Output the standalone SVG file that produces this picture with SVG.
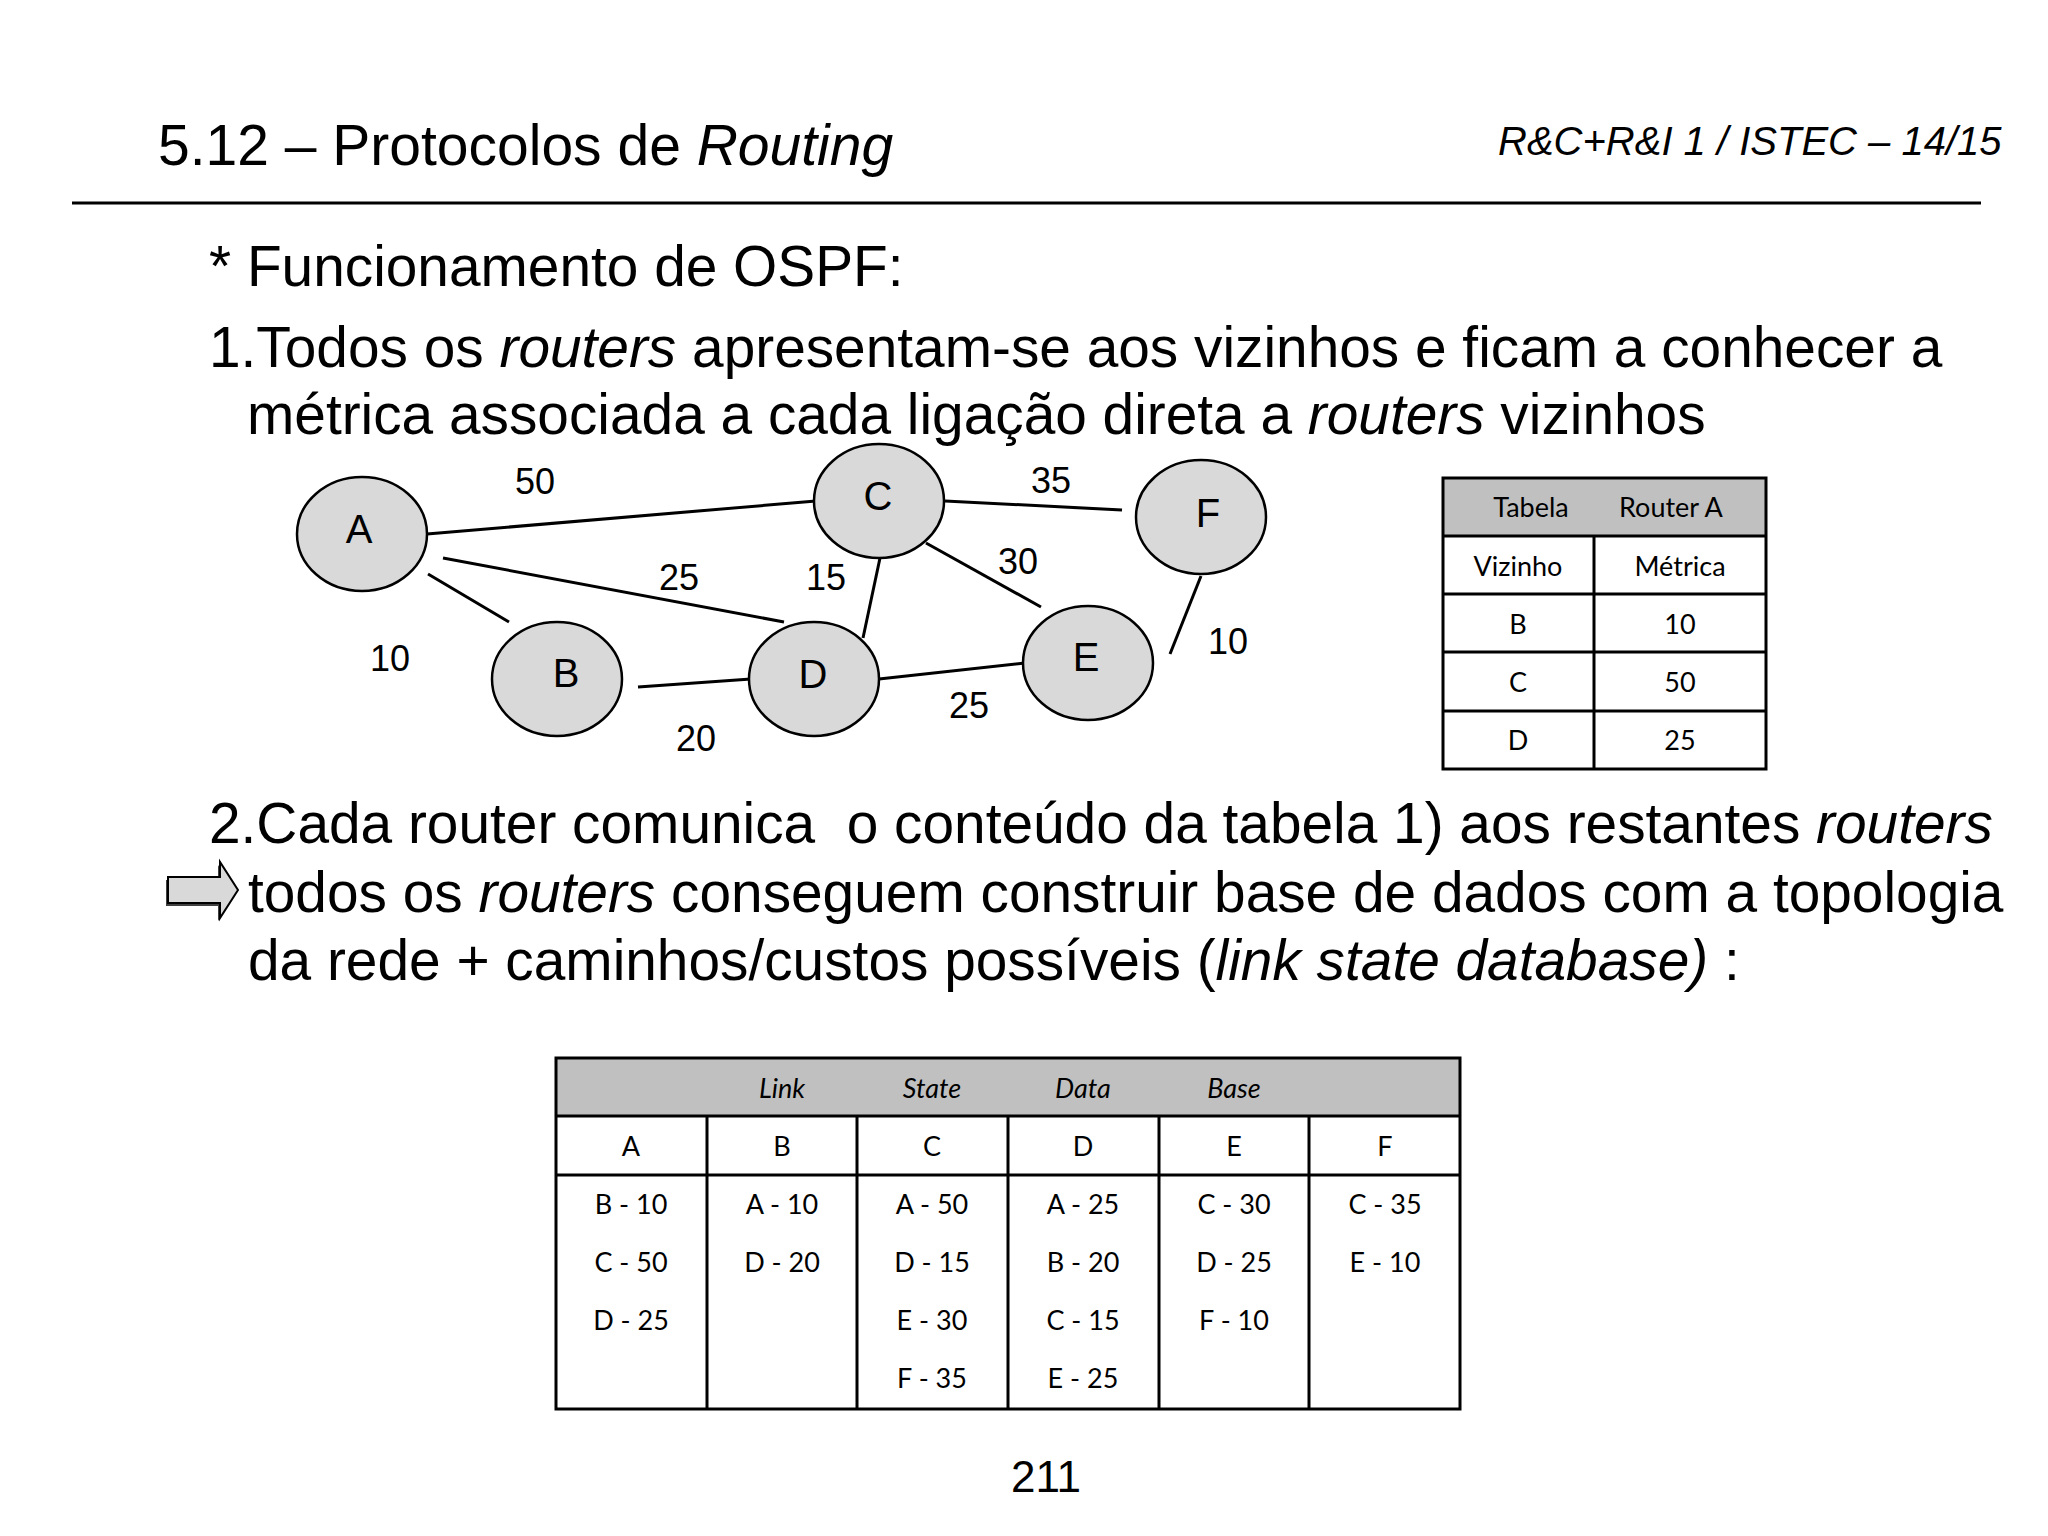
<svg xmlns="http://www.w3.org/2000/svg" width="2048" height="1536" viewBox="0 0 2048 1536">
<style>
.t{font-family:"Liberation Sans",Arial,sans-serif;fill:#000}
.body{font-size:56.8px}
.i{font-style:italic}
.node ellipse{fill:#d9d9d9;stroke:#000;stroke-width:2.5}
.nl{font-family:"Liberation Sans",Arial,sans-serif;font-size:40px;text-anchor:middle}
.el{font-family:"Liberation Sans",Arial,sans-serif;font-size:36px;text-anchor:middle}
.conn line{stroke:#000;stroke-width:3}
.tb{font-family:Lato,"Open Sans",sans-serif;font-size:27px;text-anchor:middle}
.grid{stroke:#000;stroke-width:3;fill:none}
</style>
<rect width="2048" height="1536" fill="#fff"/>
<!-- header -->
<text class="t" x="158" y="165" font-size="57">5.12 – Protocolos de <tspan class="i">Routing</tspan></text>
<text class="t i" x="1498" y="155" font-size="40">R&amp;C+R&amp;I 1 / ISTEC – 14/15</text>
<line x1="72" y1="203" x2="1981" y2="203" stroke="#000" stroke-width="3"/>
<!-- bullet text -->
<text class="t body" x="209" y="286">* Funcionamento de OSPF:</text>
<text class="t body" x="209" y="367">1.Todos os <tspan class="i">routers</tspan> apresentam-se aos vizinhos e ficam a conhecer a</text>
<text class="t body" x="247" y="434">métrica associada a cada ligação direta a <tspan class="i">routers</tspan> vizinhos</text>
<!-- connectors -->
<g id="connectors" class="conn">
<line x1="427" y1="534" x2="816" y2="501"/>
<line x1="443" y1="558" x2="784" y2="622"/>
<line x1="428" y1="574" x2="509" y2="622"/>
<line x1="945" y1="501" x2="1122" y2="510"/>
<line x1="880" y1="558" x2="863" y2="638"/>
<line x1="926" y1="543" x2="1041" y2="607"/>
<line x1="638" y1="687" x2="751" y2="679"/>
<line x1="879" y1="679" x2="1025" y2="663"/>
<line x1="1170" y1="654" x2="1201" y2="576"/>
</g>
<g id="edge-labels">
<text class="el" x="535" y="494">50</text>
<text class="el" x="1051" y="493">35</text>
<text class="el" x="1018" y="574">30</text>
<text class="el" x="679" y="590">25</text>
<text class="el" x="826" y="590">15</text>
<text class="el" x="390" y="671">10</text>
<text class="el" x="1228" y="654">10</text>
<text class="el" x="696" y="751">20</text>
<text class="el" x="969" y="718">25</text>
</g>
<!-- nodes -->
<g id="node-A" class="node"><ellipse cx="362" cy="534" rx="65" ry="57"/><text class="nl" x="359" y="543">A</text></g>
<g id="node-B" class="node"><ellipse cx="557" cy="679" rx="65" ry="57"/><text class="nl" x="566" y="687">B</text></g>
<g id="node-C" class="node"><ellipse cx="879" cy="501" rx="65" ry="57"/><text class="nl" x="878" y="510">C</text></g>
<g id="node-D" class="node"><ellipse cx="814" cy="679" rx="65" ry="57"/><text class="nl" x="813" y="688">D</text></g>
<g id="node-E" class="node"><ellipse cx="1088" cy="663" rx="65" ry="57"/><text class="nl" x="1086" y="671">E</text></g>
<g id="node-F" class="node"><ellipse cx="1201" cy="517" rx="65" ry="57"/><text class="nl" x="1208" y="527">F</text></g>
<!-- Tabela Router A -->
<g id="table-router-a">
<rect x="1443" y="478" width="323" height="58" fill="#c0c0c0"/>
<rect class="grid" x="1443" y="478" width="323" height="291"/>
<line class="grid" x1="1443" y1="536" x2="1766" y2="536"/>
<line class="grid" x1="1443" y1="594" x2="1766" y2="594"/>
<line class="grid" x1="1443" y1="652" x2="1766" y2="652"/>
<line class="grid" x1="1443" y1="711" x2="1766" y2="711"/>
<line class="grid" x1="1594" y1="536" x2="1594" y2="769"/>
<text class="tb" x="1531" y="517">Tabela</text>
<text class="tb" x="1671" y="517">Router A</text>
<text class="tb" x="1518" y="576">Vizinho</text>
<text class="tb" x="1680" y="576">Métrica</text>
<text class="tb" x="1518" y="634">B</text>
<text class="tb" x="1680" y="634">10</text>
<text class="tb" x="1518" y="692">C</text>
<text class="tb" x="1680" y="692">50</text>
<text class="tb" x="1518" y="750">D</text>
<text class="tb" x="1680" y="750">25</text>
</g>
<!-- paragraph 2 -->
<text class="t body" x="209" y="843">2.Cada router comunica&#160; o conteúdo da tabela 1) aos restantes <tspan class="i">routers</tspan></text>
<g id="arrow">
<polygon points="166,880 218,880 218,865 236,893 218,921 218,906 166,906" fill="#404040"/>
<polygon points="168,877 220,877 220,862 238,890 220,918 220,903 168,903" fill="#d9d9d9" stroke="#000" stroke-width="2"/>
</g>
<text class="t body" x="248" y="912">todos os <tspan class="i">routers</tspan> conseguem construir base de dados com a topologia</text>
<text class="t body" x="248" y="980">da rede + caminhos/custos possíveis (<tspan class="i">link state database)</tspan> :</text>
<!-- Link State Data Base table -->
<g id="table-lsdb">
<rect x="556" y="1058" width="904" height="58" fill="#c0c0c0"/>
<rect class="grid" x="556" y="1058" width="904" height="351"/>
<line class="grid" x1="556" y1="1116" x2="1460" y2="1116"/>
<line class="grid" x1="556" y1="1175" x2="1460" y2="1175"/>
<line class="grid" x1="707" y1="1116" x2="707" y2="1409"/>
<line class="grid" x1="857" y1="1116" x2="857" y2="1409"/>
<line class="grid" x1="1008" y1="1116" x2="1008" y2="1409"/>
<line class="grid" x1="1159" y1="1116" x2="1159" y2="1409"/>
<line class="grid" x1="1309" y1="1116" x2="1309" y2="1409"/>
<g font-style="italic">
<text class="tb" x="782" y="1098">Link</text>
<text class="tb" x="932" y="1098">State</text>
<text class="tb" x="1083" y="1098">Data</text>
<text class="tb" x="1234" y="1098">Base</text>
</g>
<text class="tb" x="631" y="1156">A</text>
<text class="tb" x="782" y="1156">B</text>
<text class="tb" x="932" y="1156">C</text>
<text class="tb" x="1083" y="1156">D</text>
<text class="tb" x="1234" y="1156">E</text>
<text class="tb" x="1385" y="1156">F</text>
<text class="tb" x="631" y="1214">B - 10</text>
<text class="tb" x="631" y="1272">C - 50</text>
<text class="tb" x="631" y="1330">D - 25</text>
<text class="tb" x="782" y="1214">A - 10</text>
<text class="tb" x="782" y="1272">D - 20</text>
<text class="tb" x="932" y="1214">A - 50</text>
<text class="tb" x="932" y="1272">D - 15</text>
<text class="tb" x="932" y="1330">E - 30</text>
<text class="tb" x="932" y="1388">F - 35</text>
<text class="tb" x="1083" y="1214">A - 25</text>
<text class="tb" x="1083" y="1272">B - 20</text>
<text class="tb" x="1083" y="1330">C - 15</text>
<text class="tb" x="1083" y="1388">E - 25</text>
<text class="tb" x="1234" y="1214">C - 30</text>
<text class="tb" x="1234" y="1272">D - 25</text>
<text class="tb" x="1234" y="1330">F - 10</text>
<text class="tb" x="1385" y="1214">C - 35</text>
<text class="tb" x="1385" y="1272">E - 10</text>
</g>
<text class="t" x="1046" y="1492" font-size="44" text-anchor="middle">211</text>
</svg>
